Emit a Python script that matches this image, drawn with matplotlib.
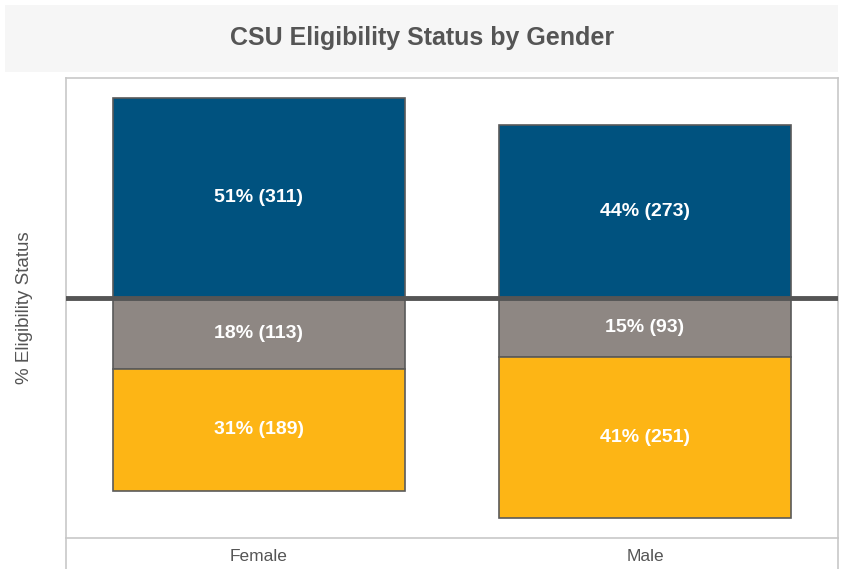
import matplotlib.pyplot as plt
from matplotlib.patches import Rectangle
from matplotlib.lines import Line2D

plt.rcParams['font.family'] = ['Liberation Sans', 'DejaVu Sans']

# Data
genders = ['Female', 'Male']
eligible_pct = [51, 44]
eligible_n = [311, 273]
pending_pct = [18, 15]
pending_n = [113, 93]
not_eligible_pct = [31, 41]
not_eligible_n = [189, 251]

blue = '#00527F'
grey = '#8E8783'
gold = '#FDB515'
edge = '#5A5A5A'
text_grey = '#555555'

W, H = 841, 569
fig = plt.figure(figsize=(W / 100, H / 100), dpi=100)

# title band
fig.add_artist(Rectangle((5 / W, 1 - 72 / H), 833 / W, 67 / H, transform=fig.transFigure,
                         facecolor='#F6F6F6', edgecolor='none', zorder=0))
fig.text(422 / W, 1 - 38 / H, 'CSU Eligibility Status by Gender', ha='center', va='center',
         fontsize=18, fontweight='bold', color=text_grey)

ax = fig.add_axes([66 / W, 1 - 538 / H, 772 / W, 460 / H])
x = list(range(len(genders)))
bw = 0.756

ax.bar(x, eligible_pct, width=bw, color=blue, edgecolor=edge, linewidth=1.2)
ax.bar(x, [-v for v in pending_pct], width=bw, color=grey, edgecolor=edge, linewidth=1.2)
ax.bar(x, [-v for v in not_eligible_pct], bottom=[-v for v in pending_pct], width=bw,
       color=gold, edgecolor=edge, linewidth=1.2)
ax.axhline(0, color='#555555', linewidth=3.5, zorder=3)

for i in x:
    ax.text(i, eligible_pct[i] / 2, f'{eligible_pct[i]}% ({eligible_n[i]})', ha='center', va='center',
            color='white', fontsize=14, fontweight='bold')
    ax.text(i, -pending_pct[i] / 2, f'{pending_pct[i]}% ({pending_n[i]})', ha='center', va='center',
            color='white', fontsize=14, fontweight='bold')
    ax.text(i, -pending_pct[i] - not_eligible_pct[i] / 2, f'{not_eligible_pct[i]}% ({not_eligible_n[i]})',
            ha='center', va='center', color='white', fontsize=14, fontweight='bold')

ax.set_xlim(-0.5, 1.5)
ax.set_ylim(-61, 56)
ax.set_xticks(x)
ax.set_xticklabels(genders, fontsize=12.5, color=text_grey)
ax.tick_params(axis='x', length=0, pad=8)
ax.set_yticks([])
ax.set_ylabel('% Eligibility Status', fontsize=13.5, color=text_grey, labelpad=24)
for s in ax.spines.values():
    s.set_color('#C8C8C8')
    s.set_linewidth(1.2)

# frame lines around the category label strip
for xp in (66, 838):
    fig.add_artist(Line2D([xp / W, xp / W], [0, 1 - 538 / H], transform=fig.transFigure,
                          color='#C8C8C8', linewidth=1.2))

fig.savefig('out.png', dpi=100)
